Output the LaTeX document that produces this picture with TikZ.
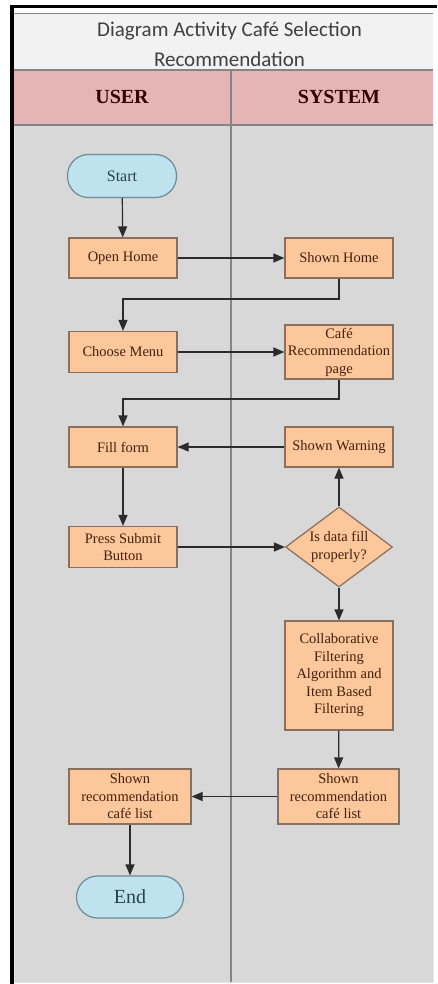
\documentclass[tikz,border=0pt]{standalone}
\usepackage{fontspec}
\setmainfont{Liberation Serif}
\newfontfamily\titlefont{Carlito}
\usetikzlibrary{shapes.geometric,arrows.meta}
\definecolor{peach}{HTML}{FBC79B}
\definecolor{boxline}{HTML}{8A6E5E}
\definecolor{txt}{HTML}{44200C}
\definecolor{termfill}{HTML}{BEE3EF}
\definecolor{termline}{HTML}{6E8A96}
\definecolor{termtxt}{HTML}{27404E}
\definecolor{lane}{HTML}{D8D8D8}
\definecolor{headpink}{HTML}{E5B5B5}
\definecolor{titlefill}{HTML}{F2F2F2}
\definecolor{divc}{HTML}{858585}
\definecolor{arrowc}{HTML}{2B2B2B}
\begin{document}
\begin{tikzpicture}[x=1pt,y=-1pt,
  box/.style={draw=boxline, fill=peach, line width=1.2pt, minimum width=108pt,
    minimum height=40pt, inner sep=0pt, align=center,
    font=\fontsize{14.5}{17.5}\selectfont, text=txt},
  term/.style={draw=termline, fill=termfill, line width=1.2pt, rounded corners=21pt,
    minimum width=109pt, minimum height=43pt, inner sep=0pt, text=termtxt},
  decision/.style={diamond, aspect=1.34, draw=boxline, fill=peach, line width=1.2pt,
    minimum width=107pt, minimum height=80pt, inner sep=0pt, align=center,
    font=\fontsize{14.5}{17.5}\selectfont, text=txt},
  flow/.style={draw=arrowc, line width=1.2pt, -{Triangle[length=11pt,width=9pt]}},
  divider/.style={draw=divc, line width=2pt}]
\useasboundingbox (0,0) rectangle (438,984);
% frame
\fill[white] (0,0) rectangle (438,984);
\fill[lane] (14,70) rectangle (433,982);
\draw[draw=white!80!gray, line width=1pt] (14,125) rectangle (433,982);
\fill[titlefill] (14,14) rectangle (433,70);
\fill[headpink] (14,70) rectangle (433,125);
\draw[divc, line width=1pt] (14,14) -- (433,14);
\draw[divc, line width=1.5pt] (14,70) -- (433,70);
\draw[divc, line width=1.5pt] (14,125) -- (433,125);
\draw[divider] (231,70) -- (231,982);
\fill[black] (10,5) rectangle (437,8.5);
\fill[black] (10,5) rectangle (14,984);
% title and headers
\node (title) at (229.5,44) [align=center, text=black!75, font=\titlefont\fontsize{21}{30}\selectfont]
  {Diagram Activity Café Selection\\Recommendation};
\node (user) at (122,97) [font=\bfseries\fontsize{20}{24}\selectfont, text=black!80!red] {USER};
\node (system) at (339,97) [font=\bfseries\fontsize{20}{24}\selectfont, text=black!80!red] {SYSTEM};
% nodes
\node[term, font=\fontsize{16}{19}\selectfont] (start) at (122,176) {Start};
\node[box] (open) at (123,258) {Open Home};
\node[box] (shome) at (339,258) {Shown Home};
\node[box, minimum height=41pt] (choose) at (123,352) {Choose Menu};
\node[box, minimum height=54pt] (cafe) at (339,352) {Café\\Recommendation\\page};
\node[box] (fill) at (123,447) {Fill form};
\node[box] (warn) at (339,447) {Shown Warning};
\node[box, minimum height=41pt] (press) at (123,547) {Press Submit\\Button};
\node[decision] (dec) at (339,547) {Is data fill\\properly?};
\node[box, minimum height=109pt] (algo) at (339,675.5)
  {Collaborative\\Filtering\\Algorithm and\\Item Based\\Filtering};
\node[box, minimum width=121pt, minimum height=55pt] (srec) at (338.5,796.5)
  {Shown\\recommendation\\café list};
\node[box, minimum width=122pt, minimum height=55pt] (urec) at (130,796.5)
  {Shown\\recommendation\\café list};
\node[term, minimum width=107pt, minimum height=42pt, font=\fontsize{20}{24}\selectfont] (end) at (130,897) {End};
% junctions
\coordinate (j1) at (231,299);
\coordinate (j2) at (231,399);
% connectors
\draw[flow] (start) -- (open);
\draw[flow] (open) -- (shome);
\draw[flow] (shome.south) |- (j1) -| (choose.north);
\draw[flow] (choose) -- (cafe);
\draw[flow] (cafe.south) |- (j2) -| (fill.north);
\draw[flow] (warn) -- (fill);
\draw[flow] (fill) -- (press);
\draw[flow] (press) -- (dec);
\draw[flow] (dec) -- (warn);
\draw[flow] (dec) -- (algo);
\draw[flow] (algo) -- (srec);
\draw[flow] (srec) -- (urec);
\draw[flow] (urec) -- (end);
\end{tikzpicture}
\end{document}
